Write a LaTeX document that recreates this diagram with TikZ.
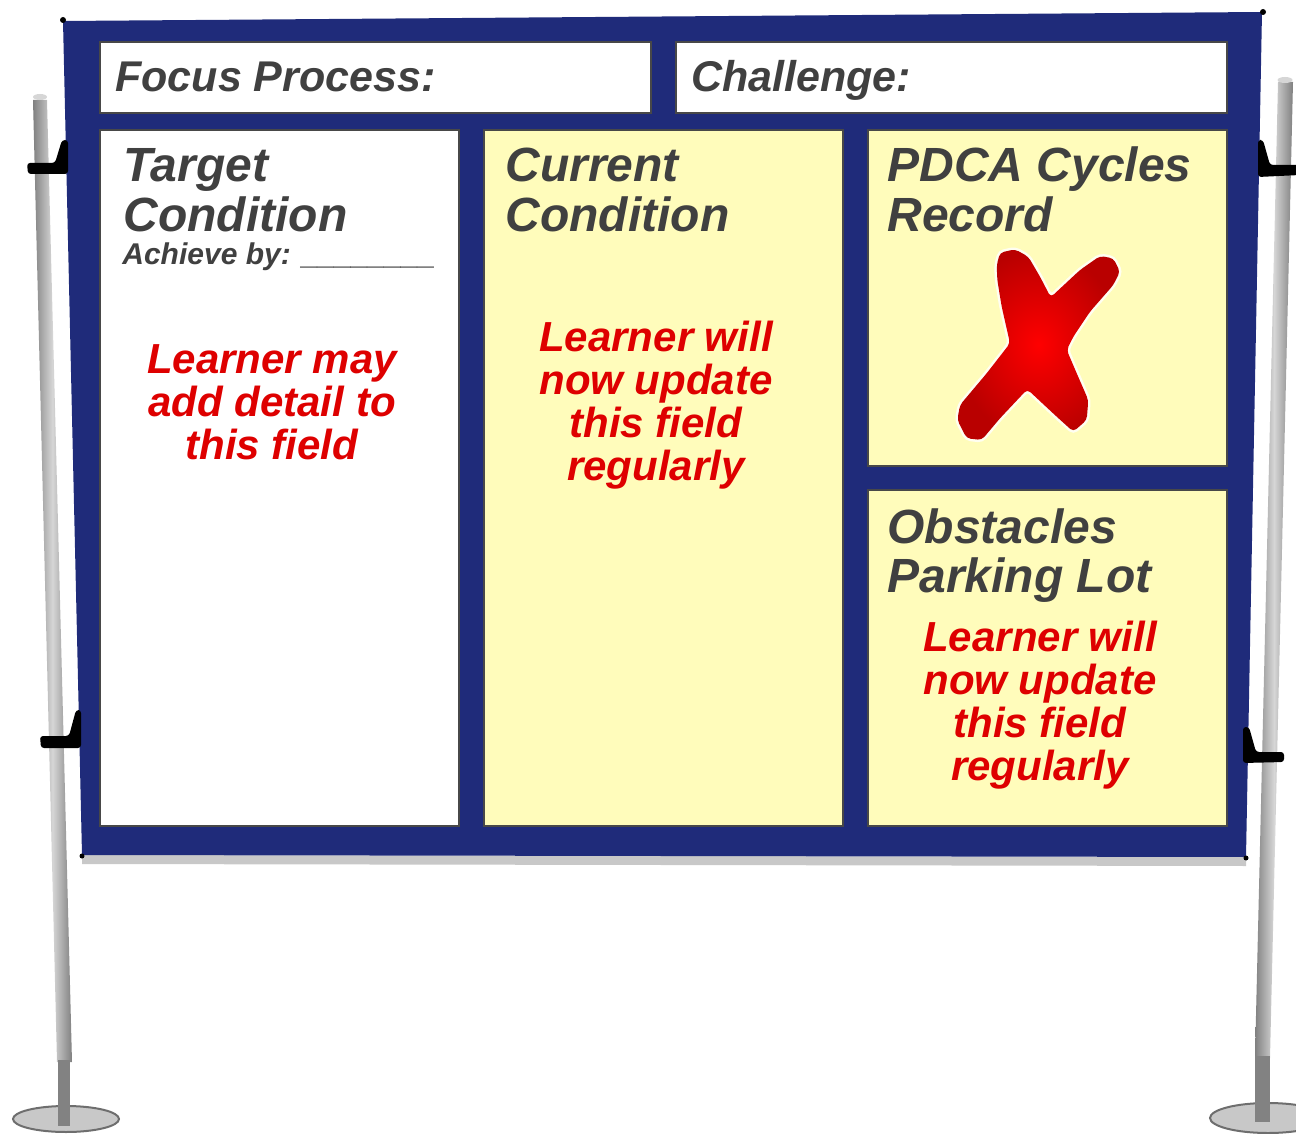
\documentclass[tikz,border=0pt]{standalone}
\usepackage{fontspec}
\setmainfont{Liberation Sans}
\definecolor{boardblue}{RGB}{31,43,122}
\definecolor{boardshadow}{RGB}{200,200,200}
\definecolor{panelyellow}{RGB}{255,252,187}
\definecolor{paneledge}{RGB}{72,72,72}
\definecolor{headgray}{RGB}{64,64,64}
\definecolor{notered}{RGB}{222,0,0}
\definecolor{polelight}{RGB}{214,214,214}
\definecolor{poledark}{RGB}{128,128,128}
\definecolor{polefoot}{RGB}{130,130,130}
\definecolor{basefill}{RGB}{200,200,200}
\definecolor{baseedge}{RGB}{110,110,110}
\definecolor{crossdark}{RGB}{185,0,0}
\begin{document}
\begin{tikzpicture}[x=0.5pt,y=-0.5pt,
  panelwhite/.style={draw=paneledge, line width=1.3pt, fill=white},
  panelyellow/.style={draw=paneledge, line width=1.3pt, fill=panelyellow},
  heading/.style={anchor=base west, inner sep=0pt, text=headgray,
    font=\bfseries\itshape\fontsize{21.5}{21.5}\selectfont},
  title/.style={anchor=base west, inner sep=0pt, text=headgray,
    font=\bfseries\itshape\fontsize{24}{24}\selectfont},
  subtitle/.style={anchor=base west, inner sep=0pt, text=headgray,
    font=\bfseries\itshape\fontsize{15}{15}\selectfont},
  note/.style={anchor=base, inner sep=0pt, text=notered,
    font=\bfseries\itshape\fontsize{21}{21}\selectfont},
  pole/.style={left color=poledark, right color=poledark, middle color=polelight},
  clamp/.style={fill=black, rounded corners=1.5pt},
  basedisc/.style={fill=basefill, draw=baseedge, line width=1pt}]

\useasboundingbox (0,0) rectangle (1296,1134);
\clip (0,0) rectangle (1296,1134);

% stand: poles and feet
\shade[pole] (33,100) -- (47,100) -- (72,1062) -- (57,1062) -- cycle;
\shade[pole] (1278,82) -- (1293,82) -- (1270,1058) -- (1255,1058) -- cycle;
\fill[polelight] (40,97) ellipse (7 and 3);
\fill[polelight] (1285,80) ellipse (7.5 and 3);
\draw[basedisc] (66,1119) ellipse (53 and 13);
\draw[basedisc] (1268,1118) ellipse (58 and 15);
\fill[polefoot] (58,1060) rectangle (70,1126);
\fill[polefoot] (1255,1056) rectangle (1270,1122);

% board
\fill[boardshadow] (82,855) -- (1246,857) -- (1246,866) -- (82,864) -- cycle;
\fill[boardblue] (63,21) -- (1262,12) -- (1246,857) -- (82,855) -- cycle;
\fill[black] (63,20) circle (3);
\fill[black] (1263,12) circle (3);
\fill[black] (82,856) circle (2.5);
\fill[black] (1246,858) circle (2.5);

% clamps holding the board to the poles
\fill[clamp] (62,140) -- (68,140) -- (68,174) -- (28,174) -- (27,163) -- (55,163) -- cycle;
\fill[clamp] (76,710) -- (81,710) -- (81,748) -- (41,748) -- (40,736) -- (69,736) -- cycle;
\fill[clamp] (1258,140) -- (1263,140) -- (1270,165) -- (1300,165) -- (1300,175) -- (1258,177) -- cycle;
\fill[clamp] (1243,727) -- (1249,727) -- (1256,752) -- (1284,752) -- (1284,762) -- (1243,763) -- cycle;

% panels
\draw[panelwhite] (100,42) rectangle (651,113);
\draw[panelwhite] (676,42) rectangle (1227,113);
\draw[panelwhite] (100,130) rectangle (459,826);
\draw[panelyellow] (484,130) rectangle (843,826);
\draw[panelyellow] (868,130) rectangle (1227,466);
\draw[panelyellow] (868,490) rectangle (1227,826);

% headings
\node[heading] (focus) at (115,92) {Focus Process:};
\node[heading] (challenge) at (691,92) {Challenge:};
\node[title] (target) at (123,182) {\begin{tabular}[t]{@{}l@{}}Target\\Condition\end{tabular}};
\node[subtitle] (achieve) at (122,265) {Achieve by: \_\_\_\_\_\_\_\_};
\node[title] (current) at (505,182) {\begin{tabular}[t]{@{}l@{}}Current\\Condition\end{tabular}};
\node[title] (pdca) at (887,182) {\begin{tabular}[t]{@{}l@{}}PDCA Cycles\\Record\end{tabular}};
\node[title] (obstacles) at (887,543) {\begin{tabular}[t]{@{}l@{}}Obstacles\\Parking Lot\end{tabular}};

% notes
\node[note] (notetarget) at (272,373) {\begin{tabular}[t]{@{}c@{}}Learner may\\add detail to\\this field\end{tabular}};
\node[note] (notecurrent) at (656,351) {\begin{tabular}[t]{@{}c@{}}Learner will\\now update\\this field\\regularly\end{tabular}};
\node[note] (noteobstacles) at (1040,651) {\begin{tabular}[t]{@{}c@{}}Learner will\\now update\\this field\\regularly\end{tabular}};

% red cross in the PDCA panel
\def\crosspath{(996.7,265) -- (1000,252.7) -- (1015,249.3) -- (1028.3,256.7)
  -- (1040,276.7) -- (1050.7,297.3) -- (1080,270) -- (1100,256) -- (1113.3,258.3)
  -- (1120,271.7) -- (1113.3,285) -- (1090,311.7) -- (1073.3,336.7) -- (1066.7,350)
  -- (1076.7,373.3) -- (1088.3,400) -- (1086.7,420) -- (1073.3,431.7) -- (1056.7,416.7)
  -- (1027.3,389.3) -- (1000,418.3) -- (981.7,440) -- (966.7,438.3) -- (957.3,420)
  -- (960,405) -- (986.7,373.3) -- (1010,343.3) -- (1001.7,306.7) -- (997.3,280) -- cycle}
\draw[white, line width=2.5pt, rounded corners=2pt, opacity=0.8] \crosspath;
\shade[inner color=red, outer color=crossdark, rounded corners=2pt] \crosspath;
\end{tikzpicture}
\end{document}
